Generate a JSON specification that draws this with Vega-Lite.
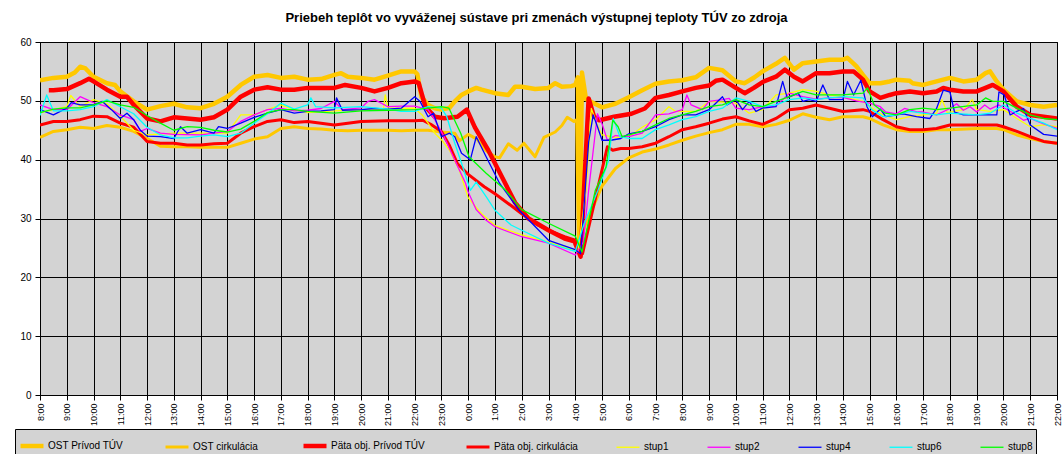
{
"$schema": "https://vega.github.io/schema/vega-lite/v6.json",
"width": 1017, "height": 353,
"autosize": {"type": "none"},
"padding": {"left": 40, "top": 42, "right": 6, "bottom": 59},
"background": "white",
"config": {"font": "Liberation Sans", "view": {"fill": "#D3D3D3", "stroke": "#000000", "strokeWidth": 1}},
"title": {"text": "Priebeh teplôt vo vyváženej sústave pri zmenách výstupnej teploty TÚV zo zdroja", "fontSize": 13, "fontWeight": "bold", "color": "#000000", "offset": 12, "dx": -12, "font": "Liberation Sans"},
"data": {"values": [
{"s":"OST Prívod TÚV","t":0,"v":53.5},{"s":"OST Prívod TÚV","t":0.5,"v":53.9},{"s":"OST Prívod TÚV","t":1,"v":54.1},{"s":"OST Prívod TÚV","t":1.3,"v":54.8},{"s":"OST Prívod TÚV","t":1.5,"v":55.8},{"s":"OST Prívod TÚV","t":1.7,"v":55.5},{"s":"OST Prívod TÚV","t":2,"v":54.1},{"s":"OST Prívod TÚV","t":2.5,"v":53},{"s":"OST Prívod TÚV","t":2.8,"v":52.7},{"s":"OST Prívod TÚV","t":3,"v":51.6},{"s":"OST Prívod TÚV","t":3.5,"v":49.9},{"s":"OST Prívod TÚV","t":4,"v":48.5},{"s":"OST Prívod TÚV","t":4.5,"v":49.1},{"s":"OST Prívod TÚV","t":5,"v":49.5},{"s":"OST Prívod TÚV","t":5.5,"v":48.9},{"s":"OST Prívod TÚV","t":6,"v":48.75},{"s":"OST Prívod TÚV","t":6.5,"v":49.5},{"s":"OST Prívod TÚV","t":7,"v":50.7},{"s":"OST Prívod TÚV","t":7.5,"v":52.7},{"s":"OST Prívod TÚV","t":8,"v":54.1},{"s":"OST Prívod TÚV","t":8.5,"v":54.4},{"s":"OST Prívod TÚV","t":9,"v":53.9},{"s":"OST Prívod TÚV","t":9.5,"v":54.1},{"s":"OST Prívod TÚV","t":10,"v":53.6},{"s":"OST Prívod TÚV","t":10.5,"v":53.7},{"s":"OST Prívod TÚV","t":11,"v":54.4},{"s":"OST Prívod TÚV","t":11.25,"v":54.7},{"s":"OST Prívod TÚV","t":11.5,"v":54.1},{"s":"OST Prívod TÚV","t":12,"v":53.9},{"s":"OST Prívod TÚV","t":12.5,"v":53.6},{"s":"OST Prívod TÚV","t":13,"v":54.3},{"s":"OST Prívod TÚV","t":13.5,"v":55},{"s":"OST Prívod TÚV","t":14,"v":55},{"s":"OST Prívod TÚV","t":14.1,"v":54.5},{"s":"OST Prívod TÚV","t":14.25,"v":50.7},{"s":"OST Prívod TÚV","t":14.5,"v":49.3},{"s":"OST Prívod TÚV","t":14.75,"v":48.75},{"s":"OST Prívod TÚV","t":15,"v":48.5},{"s":"OST Prívod TÚV","t":15.3,"v":48.8},{"s":"OST Prívod TÚV","t":15.5,"v":49.9},{"s":"OST Prívod TÚV","t":15.75,"v":51},{"s":"OST Prívod TÚV","t":16,"v":51.6},{"s":"OST Prívod TÚV","t":16.3,"v":52.2},{"s":"OST Prívod TÚV","t":16.5,"v":51.9},{"s":"OST Prívod TÚV","t":17,"v":51.3},{"s":"OST Prívod TÚV","t":17.5,"v":51},{"s":"OST Prívod TÚV","t":17.75,"v":52.4},{"s":"OST Prívod TÚV","t":18,"v":52.4},{"s":"OST Prívod TÚV","t":18.5,"v":52},{"s":"OST Prívod TÚV","t":19,"v":52.2},{"s":"OST Prívod TÚV","t":19.25,"v":53},{"s":"OST Prívod TÚV","t":19.5,"v":52.4},{"s":"OST Prívod TÚV","t":19.85,"v":52.5},{"s":"OST Prívod TÚV","t":20,"v":52.7},{"s":"OST Prívod TÚV","t":20.1,"v":54},{"s":"OST Prívod TÚV","t":20.17,"v":25},{"s":"OST Prívod TÚV","t":20.25,"v":54.8},{"s":"OST Prívod TÚV","t":20.4,"v":50.3},{"s":"OST Prívod TÚV","t":20.6,"v":49.8},{"s":"OST Prívod TÚV","t":21,"v":48.9},{"s":"OST Prívod TÚV","t":21.5,"v":49.5},{"s":"OST Prívod TÚV","t":22,"v":50.6},{"s":"OST Prívod TÚV","t":22.5,"v":51.8},{"s":"OST Prívod TÚV","t":23,"v":52.9},{"s":"OST Prívod TÚV","t":23.5,"v":53.3},{"s":"OST Prívod TÚV","t":24,"v":53.5},{"s":"OST Prívod TÚV","t":24.5,"v":54},{"s":"OST Prívod TÚV","t":25,"v":55.6},{"s":"OST Prívod TÚV","t":25.5,"v":55.2},{"s":"OST Prívod TÚV","t":26,"v":53.3},{"s":"OST Prívod TÚV","t":26.33,"v":53},{"s":"OST Prívod TÚV","t":26.7,"v":54},{"s":"OST Prívod TÚV","t":27,"v":55},{"s":"OST Prívod TÚV","t":27.5,"v":56.3},{"s":"OST Prívod TÚV","t":27.83,"v":57.3},{"s":"OST Prívod TÚV","t":28.17,"v":55.3},{"s":"OST Prívod TÚV","t":28.5,"v":56.4},{"s":"OST Prívod TÚV","t":29,"v":56.7},{"s":"OST Prívod TÚV","t":29.5,"v":57},{"s":"OST Prívod TÚV","t":30,"v":57},{"s":"OST Prívod TÚV","t":30.17,"v":57.3},{"s":"OST Prívod TÚV","t":30.5,"v":55.9},{"s":"OST Prívod TÚV","t":30.75,"v":54.4},{"s":"OST Prívod TÚV","t":31,"v":53},{"s":"OST Prívod TÚV","t":31.4,"v":53},{"s":"OST Prívod TÚV","t":31.75,"v":53.3},{"s":"OST Prívod TÚV","t":32,"v":53.6},{"s":"OST Prívod TÚV","t":32.5,"v":53.4},{"s":"OST Prívod TÚV","t":32.6,"v":53},{"s":"OST Prívod TÚV","t":33,"v":52.7},{"s":"OST Prívod TÚV","t":33.5,"v":53.3},{"s":"OST Prívod TÚV","t":34,"v":53.9},{"s":"OST Prívod TÚV","t":34.5,"v":53.3},{"s":"OST Prívod TÚV","t":35,"v":53.6},{"s":"OST Prívod TÚV","t":35.33,"v":54.7},{"s":"OST Prívod TÚV","t":35.5,"v":55},{"s":"OST Prívod TÚV","t":35.75,"v":53.3},{"s":"OST Prívod TÚV","t":36,"v":51.9},{"s":"OST Prívod TÚV","t":36.5,"v":49.9},{"s":"OST Prívod TÚV","t":37,"v":49.3},{"s":"OST Prívod TÚV","t":37.5,"v":49},{"s":"OST Prívod TÚV","t":38,"v":49.3},
{"s":"OST cirkulácia","t":0,"v":43.8},{"s":"OST cirkulácia","t":0.5,"v":44.8},{"s":"OST cirkulácia","t":1,"v":45.1},{"s":"OST cirkulácia","t":1.5,"v":45.5},{"s":"OST cirkulácia","t":2,"v":45.3},{"s":"OST cirkulácia","t":2.5,"v":45.8},{"s":"OST cirkulácia","t":3,"v":45.5},{"s":"OST cirkulácia","t":3.5,"v":44.8},{"s":"OST cirkulácia","t":4,"v":43.6},{"s":"OST cirkulácia","t":4.5,"v":42.3},{"s":"OST cirkulácia","t":5,"v":42.2},{"s":"OST cirkulácia","t":5.5,"v":42.2},{"s":"OST cirkulácia","t":6,"v":42.1},{"s":"OST cirkulácia","t":6.5,"v":42.1},{"s":"OST cirkulácia","t":7,"v":42.1},{"s":"OST cirkulácia","t":7.5,"v":42.8},{"s":"OST cirkulácia","t":8,"v":43.5},{"s":"OST cirkulácia","t":8.5,"v":43.9},{"s":"OST cirkulácia","t":9,"v":45.3},{"s":"OST cirkulácia","t":9.5,"v":45.6},{"s":"OST cirkulácia","t":10,"v":45.3},{"s":"OST cirkulácia","t":10.5,"v":45.2},{"s":"OST cirkulácia","t":11,"v":45},{"s":"OST cirkulácia","t":11.5,"v":44.9},{"s":"OST cirkulácia","t":12,"v":45},{"s":"OST cirkulácia","t":12.5,"v":45},{"s":"OST cirkulácia","t":13,"v":45},{"s":"OST cirkulácia","t":13.5,"v":44.9},{"s":"OST cirkulácia","t":14,"v":45},{"s":"OST cirkulácia","t":14.5,"v":45},{"s":"OST cirkulácia","t":15,"v":44.7},{"s":"OST cirkulácia","t":15.5,"v":44.5},{"s":"OST cirkulácia","t":15.67,"v":43.2},{"s":"OST cirkulácia","t":16,"v":44.3},{"s":"OST cirkulácia","t":16.33,"v":43.5},{"s":"OST cirkulácia","t":16.67,"v":41.5},{"s":"OST cirkulácia","t":17,"v":40.5},{"s":"OST cirkulácia","t":17.17,"v":40.3},{"s":"OST cirkulácia","t":17.5,"v":42.7},{"s":"OST cirkulácia","t":17.83,"v":41.6},{"s":"OST cirkulácia","t":18.08,"v":42.8},{"s":"OST cirkulácia","t":18.5,"v":40.5},{"s":"OST cirkulácia","t":18.83,"v":43.8},{"s":"OST cirkulácia","t":19.25,"v":44.7},{"s":"OST cirkulácia","t":19.5,"v":45.8},{"s":"OST cirkulácia","t":19.7,"v":47.2},{"s":"OST cirkulácia","t":19.95,"v":46.5},{"s":"OST cirkulácia","t":20.05,"v":46.8},{"s":"OST cirkulácia","t":20.12,"v":24.5},{"s":"OST cirkulácia","t":20.35,"v":28.6},{"s":"OST cirkulácia","t":21,"v":35.5},{"s":"OST cirkulácia","t":21.5,"v":38.5},{"s":"OST cirkulácia","t":22,"v":40.3},{"s":"OST cirkulácia","t":22.5,"v":41.3},{"s":"OST cirkulácia","t":23,"v":41.8},{"s":"OST cirkulácia","t":23.5,"v":42.5},{"s":"OST cirkulácia","t":24,"v":43.3},{"s":"OST cirkulácia","t":24.5,"v":44},{"s":"OST cirkulácia","t":25,"v":44.6},{"s":"OST cirkulácia","t":25.5,"v":45.1},{"s":"OST cirkulácia","t":26,"v":46},{"s":"OST cirkulácia","t":26.5,"v":46},{"s":"OST cirkulácia","t":27,"v":45.6},{"s":"OST cirkulácia","t":27.5,"v":46},{"s":"OST cirkulácia","t":28,"v":46.7},{"s":"OST cirkulácia","t":28.5,"v":47.8},{"s":"OST cirkulácia","t":29,"v":47.2},{"s":"OST cirkulácia","t":29.5,"v":46.8},{"s":"OST cirkulácia","t":30,"v":47.3},{"s":"OST cirkulácia","t":30.75,"v":47.3},{"s":"OST cirkulácia","t":31,"v":47},{"s":"OST cirkulácia","t":31.5,"v":45.9},{"s":"OST cirkulácia","t":32,"v":45.1},{"s":"OST cirkulácia","t":32.5,"v":44.8},{"s":"OST cirkulácia","t":33,"v":44.8},{"s":"OST cirkulácia","t":33.5,"v":45.1},{"s":"OST cirkulácia","t":34,"v":45.1},{"s":"OST cirkulácia","t":35,"v":45.3},{"s":"OST cirkulácia","t":35.75,"v":45.3},{"s":"OST cirkulácia","t":36,"v":45.1},{"s":"OST cirkulácia","t":36.5,"v":44.2},{"s":"OST cirkulácia","t":37,"v":43.6},{"s":"OST cirkulácia","t":37.5,"v":43.1},{"s":"OST cirkulácia","t":38,"v":42.8},
{"s":"Päta obj. Prívod TÚV","t":0.33,"v":51.8},{"s":"Päta obj. Prívod TÚV","t":0.5,"v":51.8},{"s":"Päta obj. Prívod TÚV","t":1,"v":52},{"s":"Päta obj. Prívod TÚV","t":1.5,"v":53},{"s":"Päta obj. Prívod TÚV","t":1.83,"v":53.75},{"s":"Päta obj. Prívod TÚV","t":2,"v":53.3},{"s":"Päta obj. Prívod TÚV","t":2.5,"v":51.9},{"s":"Päta obj. Prívod TÚV","t":3,"v":50.7},{"s":"Päta obj. Prívod TÚV","t":3.25,"v":50.7},{"s":"Päta obj. Prívod TÚV","t":3.5,"v":49.3},{"s":"Päta obj. Prívod TÚV","t":4,"v":47},{"s":"Päta obj. Prívod TÚV","t":4.5,"v":46.5},{"s":"Päta obj. Prívod TÚV","t":5,"v":47.2},{"s":"Päta obj. Prívod TÚV","t":5.5,"v":47},{"s":"Päta obj. Prívod TÚV","t":6,"v":46.8},{"s":"Päta obj. Prívod TÚV","t":6.5,"v":47.2},{"s":"Päta obj. Prívod TÚV","t":7,"v":48.5},{"s":"Päta obj. Prívod TÚV","t":7.5,"v":50.7},{"s":"Päta obj. Prívod TÚV","t":8,"v":51.9},{"s":"Päta obj. Prívod TÚV","t":8.5,"v":52.3},{"s":"Päta obj. Prívod TÚV","t":9,"v":51.9},{"s":"Päta obj. Prívod TÚV","t":9.5,"v":51.9},{"s":"Päta obj. Prívod TÚV","t":10,"v":52.2},{"s":"Päta obj. Prívod TÚV","t":10.5,"v":52.2},{"s":"Päta obj. Prívod TÚV","t":11,"v":52.2},{"s":"Päta obj. Prívod TÚV","t":11.4,"v":52.7},{"s":"Päta obj. Prívod TÚV","t":12,"v":52.2},{"s":"Päta obj. Prívod TÚV","t":12.5,"v":51.6},{"s":"Päta obj. Prívod TÚV","t":13,"v":52.2},{"s":"Päta obj. Prívod TÚV","t":13.5,"v":53},{"s":"Päta obj. Prívod TÚV","t":14,"v":53.3},{"s":"Päta obj. Prívod TÚV","t":14.15,"v":53},{"s":"Päta obj. Prívod TÚV","t":14.4,"v":49},{"s":"Päta obj. Prívod TÚV","t":14.75,"v":47.3},{"s":"Päta obj. Prívod TÚV","t":15.1,"v":47.05},{"s":"Päta obj. Prívod TÚV","t":15.6,"v":47.3},{"s":"Päta obj. Prívod TÚV","t":15.95,"v":48.5},{"s":"Päta obj. Prívod TÚV","t":16.25,"v":45.5},{"s":"Päta obj. Prívod TÚV","t":16.75,"v":41.6},{"s":"Päta obj. Prívod TÚV","t":17.3,"v":36.7},{"s":"Päta obj. Prívod TÚV","t":17.75,"v":32.7},{"s":"Päta obj. Prívod TÚV","t":18.25,"v":30},{"s":"Päta obj. Prívod TÚV","t":19,"v":28},{"s":"Päta obj. Prívod TÚV","t":19.6,"v":26.6},{"s":"Päta obj. Prívod TÚV","t":19.97,"v":26.1},{"s":"Päta obj. Prívod TÚV","t":20.2,"v":23.5},{"s":"Päta obj. Prívod TÚV","t":20.5,"v":50.4},{"s":"Päta obj. Prívod TÚV","t":20.7,"v":47.3},{"s":"Päta obj. Prívod TÚV","t":20.9,"v":46.7},{"s":"Päta obj. Prívod TÚV","t":21.45,"v":47.3},{"s":"Päta obj. Prívod TÚV","t":22.1,"v":47.8},{"s":"Päta obj. Prívod TÚV","t":22.6,"v":48.7},{"s":"Päta obj. Prívod TÚV","t":23,"v":50.5},{"s":"Päta obj. Prívod TÚV","t":23.5,"v":51},{"s":"Päta obj. Prívod TÚV","t":24,"v":51.6},{"s":"Päta obj. Prívod TÚV","t":24.5,"v":52.2},{"s":"Päta obj. Prívod TÚV","t":25,"v":52.6},{"s":"Päta obj. Prívod TÚV","t":25.25,"v":53.4},{"s":"Päta obj. Prívod TÚV","t":25.5,"v":53.6},{"s":"Päta obj. Prívod TÚV","t":26,"v":52.2},{"s":"Päta obj. Prívod TÚV","t":26.33,"v":51.3},{"s":"Päta obj. Prívod TÚV","t":26.67,"v":52.2},{"s":"Päta obj. Prívod TÚV","t":27,"v":53.2},{"s":"Päta obj. Prívod TÚV","t":27.5,"v":54.1},{"s":"Päta obj. Prívod TÚV","t":27.83,"v":55.3},{"s":"Päta obj. Prívod TÚV","t":28.17,"v":54.1},{"s":"Päta obj. Prívod TÚV","t":28.5,"v":53.3},{"s":"Päta obj. Prívod TÚV","t":29,"v":54.7},{"s":"Päta obj. Prívod TÚV","t":29.5,"v":54.7},{"s":"Päta obj. Prívod TÚV","t":30,"v":55},{"s":"Päta obj. Prívod TÚV","t":30.4,"v":55},{"s":"Päta obj. Prívod TÚV","t":30.75,"v":53.6},{"s":"Päta obj. Prívod TÚV","t":31,"v":51.6},{"s":"Päta obj. Prívod TÚV","t":31.4,"v":50.5},{"s":"Päta obj. Prívod TÚV","t":31.75,"v":51},{"s":"Päta obj. Prívod TÚV","t":32,"v":51.3},{"s":"Päta obj. Prívod TÚV","t":32.5,"v":51.6},{"s":"Päta obj. Prívod TÚV","t":33,"v":51.3},{"s":"Päta obj. Prívod TÚV","t":33.5,"v":51.6},{"s":"Päta obj. Prívod TÚV","t":33.75,"v":52.2},{"s":"Päta obj. Prívod TÚV","t":34,"v":51.9},{"s":"Päta obj. Prívod TÚV","t":34.5,"v":51.6},{"s":"Päta obj. Prívod TÚV","t":35,"v":51.6},{"s":"Päta obj. Prívod TÚV","t":35.33,"v":52.2},{"s":"Päta obj. Prívod TÚV","t":35.6,"v":52.7},{"s":"Päta obj. Prívod TÚV","t":36,"v":51.6},{"s":"Päta obj. Prívod TÚV","t":36.5,"v":49},{"s":"Päta obj. Prívod TÚV","t":37,"v":47.6},{"s":"Päta obj. Prívod TÚV","t":37.5,"v":47.3},{"s":"Päta obj. Prívod TÚV","t":38,"v":47},
{"s":"Päta obj. cirkulácia","t":0,"v":45.9},{"s":"Päta obj. cirkulácia","t":0.5,"v":46.5},{"s":"Päta obj. cirkulácia","t":1,"v":46.5},{"s":"Päta obj. cirkulácia","t":1.5,"v":46.8},{"s":"Päta obj. cirkulácia","t":2,"v":47.4},{"s":"Päta obj. cirkulácia","t":2.5,"v":47.3},{"s":"Päta obj. cirkulácia","t":3,"v":46.2},{"s":"Päta obj. cirkulácia","t":3.5,"v":45.5},{"s":"Päta obj. cirkulácia","t":4,"v":43.1},{"s":"Päta obj. cirkulácia","t":4.5,"v":42.8},{"s":"Päta obj. cirkulácia","t":5,"v":42.8},{"s":"Päta obj. cirkulácia","t":5.5,"v":42.5},{"s":"Päta obj. cirkulácia","t":6,"v":42.5},{"s":"Päta obj. cirkulácia","t":6.5,"v":42.7},{"s":"Päta obj. cirkulácia","t":7,"v":42.8},{"s":"Päta obj. cirkulácia","t":7.5,"v":44.5},{"s":"Päta obj. cirkulácia","t":8,"v":45.6},{"s":"Päta obj. cirkulácia","t":8.5,"v":46.5},{"s":"Päta obj. cirkulácia","t":9,"v":46.8},{"s":"Päta obj. cirkulácia","t":9.5,"v":46.3},{"s":"Päta obj. cirkulácia","t":10,"v":46.5},{"s":"Päta obj. cirkulácia","t":11,"v":45.9},{"s":"Päta obj. cirkulácia","t":12,"v":46.5},{"s":"Päta obj. cirkulácia","t":13,"v":46.6},{"s":"Päta obj. cirkulácia","t":14,"v":46.6},{"s":"Päta obj. cirkulácia","t":14.3,"v":46.7},{"s":"Päta obj. cirkulácia","t":14.6,"v":46},{"s":"Päta obj. cirkulácia","t":15,"v":44.8},{"s":"Päta obj. cirkulácia","t":15.3,"v":42.4},{"s":"Päta obj. cirkulácia","t":15.6,"v":39.3},{"s":"Päta obj. cirkulácia","t":16,"v":37.5},{"s":"Päta obj. cirkulácia","t":16.6,"v":35.4},{"s":"Päta obj. cirkulácia","t":17,"v":34.2},{"s":"Päta obj. cirkulácia","t":17.6,"v":32.2},{"s":"Päta obj. cirkulácia","t":18,"v":30.8},{"s":"Päta obj. cirkulácia","t":18.6,"v":28.9},{"s":"Päta obj. cirkulácia","t":19,"v":28},{"s":"Päta obj. cirkulácia","t":19.6,"v":26.9},{"s":"Päta obj. cirkulácia","t":20,"v":26.3},{"s":"Päta obj. cirkulácia","t":20.27,"v":24},{"s":"Päta obj. cirkulácia","t":21.2,"v":42.2},{"s":"Päta obj. cirkulácia","t":21.4,"v":41.6},{"s":"Päta obj. cirkulácia","t":21.7,"v":41.9},{"s":"Päta obj. cirkulácia","t":22,"v":41.9},{"s":"Päta obj. cirkulácia","t":22.5,"v":42.2},{"s":"Päta obj. cirkulácia","t":23,"v":42.8},{"s":"Päta obj. cirkulácia","t":23.5,"v":43.9},{"s":"Päta obj. cirkulácia","t":24,"v":45.1},{"s":"Päta obj. cirkulácia","t":24.5,"v":45.6},{"s":"Päta obj. cirkulácia","t":25,"v":46.2},{"s":"Päta obj. cirkulácia","t":25.5,"v":46.9},{"s":"Päta obj. cirkulácia","t":26,"v":47.3},{"s":"Päta obj. cirkulácia","t":26.5,"v":46.6},{"s":"Päta obj. cirkulácia","t":27,"v":46},{"s":"Päta obj. cirkulácia","t":27.5,"v":47},{"s":"Päta obj. cirkulácia","t":28,"v":48.5},{"s":"Päta obj. cirkulácia","t":28.5,"v":48.75},{"s":"Päta obj. cirkulácia","t":29,"v":49.3},{"s":"Päta obj. cirkulácia","t":29.5,"v":48.75},{"s":"Päta obj. cirkulácia","t":30,"v":48.2},{"s":"Päta obj. cirkulácia","t":30.75,"v":48.5},{"s":"Päta obj. cirkulácia","t":31,"v":48.2},{"s":"Päta obj. cirkulácia","t":31.5,"v":46.8},{"s":"Päta obj. cirkulácia","t":32,"v":45.6},{"s":"Päta obj. cirkulácia","t":32.5,"v":45.1},{"s":"Päta obj. cirkulácia","t":33,"v":45.1},{"s":"Päta obj. cirkulácia","t":33.5,"v":45.3},{"s":"Päta obj. cirkulácia","t":34,"v":45.9},{"s":"Päta obj. cirkulácia","t":35,"v":45.9},{"s":"Päta obj. cirkulácia","t":35.75,"v":45.9},{"s":"Päta obj. cirkulácia","t":36,"v":45.6},{"s":"Päta obj. cirkulácia","t":36.5,"v":44.8},{"s":"Päta obj. cirkulácia","t":37,"v":43.9},{"s":"Päta obj. cirkulácia","t":37.5,"v":43.1},{"s":"Päta obj. cirkulácia","t":38,"v":42.8},
{"s":"stup1","t":0,"v":48},{"s":"stup1","t":0.5,"v":48.5},{"s":"stup1","t":1,"v":49},{"s":"stup1","t":1.15,"v":50.9},{"s":"stup1","t":1.5,"v":49},{"s":"stup1","t":2,"v":50.2},{"s":"stup1","t":2.5,"v":49.5},{"s":"stup1","t":3,"v":47.4},{"s":"stup1","t":3.5,"v":45},{"s":"stup1","t":4,"v":44.2},{"s":"stup1","t":5,"v":44.5},{"s":"stup1","t":6,"v":44.5},{"s":"stup1","t":7,"v":44.5},{"s":"stup1","t":7.5,"v":47.6},{"s":"stup1","t":8,"v":47.6},{"s":"stup1","t":8.5,"v":48.5},{"s":"stup1","t":9,"v":49.3},{"s":"stup1","t":9.5,"v":48.5},{"s":"stup1","t":10,"v":48},{"s":"stup1","t":11,"v":48.3},{"s":"stup1","t":12,"v":48.5},{"s":"stup1","t":12.83,"v":48.5},{"s":"stup1","t":12.9,"v":51},{"s":"stup1","t":13,"v":48.8},{"s":"stup1","t":13.5,"v":48.7},{"s":"stup1","t":14,"v":48.75},{"s":"stup1","t":14.3,"v":47.5},{"s":"stup1","t":14.5,"v":46.2},{"s":"stup1","t":14.75,"v":44.5},{"s":"stup1","t":15,"v":43.4},{"s":"stup1","t":15.3,"v":41.6},{"s":"stup1","t":15.67,"v":38.2},{"s":"stup1","t":16,"v":33.5},{"s":"stup1","t":16.5,"v":30.8},{"s":"stup1","t":17,"v":28.8},{"s":"stup1","t":18,"v":27.2},{"s":"stup1","t":19,"v":26},{"s":"stup1","t":20,"v":24.6},{"s":"stup1","t":20.1,"v":24.3},{"s":"stup1","t":20.4,"v":34.8},{"s":"stup1","t":20.6,"v":48.7},{"s":"stup1","t":20.85,"v":45.6},{"s":"stup1","t":21,"v":44.2},{"s":"stup1","t":21.5,"v":43.8},{"s":"stup1","t":22,"v":43.9},{"s":"stup1","t":22.5,"v":45.5},{"s":"stup1","t":23,"v":46.8},{"s":"stup1","t":23.5,"v":49},{"s":"stup1","t":23.75,"v":48.2},{"s":"stup1","t":24,"v":48.2},{"s":"stup1","t":24.5,"v":48.2},{"s":"stup1","t":25,"v":49.9},{"s":"stup1","t":25.5,"v":49.8},{"s":"stup1","t":26,"v":49.6},{"s":"stup1","t":26.5,"v":47.9},{"s":"stup1","t":27,"v":48.5},{"s":"stup1","t":27.5,"v":51},{"s":"stup1","t":28,"v":51.3},{"s":"stup1","t":28.5,"v":51.9},{"s":"stup1","t":29,"v":51.6},{"s":"stup1","t":29.5,"v":51},{"s":"stup1","t":30,"v":50.7},{"s":"stup1","t":30.75,"v":49.9},{"s":"stup1","t":31.1,"v":48.75},{"s":"stup1","t":31.5,"v":47.6},{"s":"stup1","t":32,"v":46.8},{"s":"stup1","t":32.5,"v":47.3},{"s":"stup1","t":33,"v":47.6},{"s":"stup1","t":33.5,"v":47.9},{"s":"stup1","t":33.7,"v":50.2},{"s":"stup1","t":33.9,"v":48},{"s":"stup1","t":34.5,"v":48.5},{"s":"stup1","t":34.83,"v":50.2},{"s":"stup1","t":35,"v":48.5},{"s":"stup1","t":35.5,"v":48.2},{"s":"stup1","t":36,"v":48.5},{"s":"stup1","t":36.5,"v":47},{"s":"stup1","t":37,"v":45.6},{"s":"stup1","t":37.5,"v":45.9},{"s":"stup1","t":38,"v":45.6},
{"s":"stup2","t":0,"v":49.3},{"s":"stup2","t":0.5,"v":48.5},{"s":"stup2","t":1,"v":48.5},{"s":"stup2","t":1.5,"v":50.7},{"s":"stup2","t":2,"v":49.7},{"s":"stup2","t":2.5,"v":49},{"s":"stup2","t":3,"v":47.6},{"s":"stup2","t":3.5,"v":46.8},{"s":"stup2","t":3.75,"v":44.8},{"s":"stup2","t":4,"v":45.3},{"s":"stup2","t":4.5,"v":44.5},{"s":"stup2","t":5,"v":44.3},{"s":"stup2","t":6,"v":44.2},{"s":"stup2","t":7,"v":44.8},{"s":"stup2","t":7.5,"v":46.5},{"s":"stup2","t":8,"v":47.6},{"s":"stup2","t":8.5,"v":48.5},{"s":"stup2","t":9,"v":48.7},{"s":"stup2","t":9.5,"v":48.3},{"s":"stup2","t":10,"v":48.4},{"s":"stup2","t":10.5,"v":48.7},{"s":"stup2","t":11,"v":49.9},{"s":"stup2","t":11.3,"v":48.5},{"s":"stup2","t":12,"v":48.8},{"s":"stup2","t":12.25,"v":49.9},{"s":"stup2","t":12.5,"v":50.2},{"s":"stup2","t":13,"v":49},{"s":"stup2","t":13.5,"v":49.1},{"s":"stup2","t":14,"v":49.1},{"s":"stup2","t":14.5,"v":48.5},{"s":"stup2","t":14.75,"v":46.8},{"s":"stup2","t":15.1,"v":43.9},{"s":"stup2","t":15.5,"v":39.9},{"s":"stup2","t":15.9,"v":36},{"s":"stup2","t":16,"v":34.5},{"s":"stup2","t":16.3,"v":31.5},{"s":"stup2","t":16.67,"v":29.7},{"s":"stup2","t":17,"v":28.6},{"s":"stup2","t":18,"v":26.9},{"s":"stup2","t":19,"v":25.8},{"s":"stup2","t":20,"v":23.8},{"s":"stup2","t":20.3,"v":26},{"s":"stup2","t":20.5,"v":34.8},{"s":"stup2","t":20.83,"v":47.8},{"s":"stup2","t":21,"v":46.1},{"s":"stup2","t":21.2,"v":43.3},{"s":"stup2","t":21.5,"v":44.1},{"s":"stup2","t":22,"v":43.9},{"s":"stup2","t":22.5,"v":44.5},{"s":"stup2","t":23,"v":47.6},{"s":"stup2","t":23.5,"v":47.8},{"s":"stup2","t":24,"v":48.5},{"s":"stup2","t":24.17,"v":51},{"s":"stup2","t":24.33,"v":49.3},{"s":"stup2","t":24.75,"v":48.5},{"s":"stup2","t":25,"v":49.9},{"s":"stup2","t":25.5,"v":50.2},{"s":"stup2","t":25.75,"v":50.4},{"s":"stup2","t":26,"v":48.75},{"s":"stup2","t":26.5,"v":48.5},{"s":"stup2","t":27,"v":49},{"s":"stup2","t":27.5,"v":49.1},{"s":"stup2","t":28,"v":51.3},{"s":"stup2","t":28.5,"v":50.7},{"s":"stup2","t":29,"v":50.3},{"s":"stup2","t":29.5,"v":50.5},{"s":"stup2","t":30,"v":50.6},{"s":"stup2","t":30.5,"v":50},{"s":"stup2","t":31,"v":49.6},{"s":"stup2","t":31.4,"v":49},{"s":"stup2","t":31.6,"v":48.1},{"s":"stup2","t":32,"v":47.8},{"s":"stup2","t":32.3,"v":48.7},{"s":"stup2","t":32.8,"v":48.1},{"s":"stup2","t":33,"v":48.1},{"s":"stup2","t":33.5,"v":47.6},{"s":"stup2","t":34,"v":48.7},{"s":"stup2","t":34.25,"v":49.5},{"s":"stup2","t":34.5,"v":48.4},{"s":"stup2","t":34.75,"v":49},{"s":"stup2","t":35,"v":48.1},{"s":"stup2","t":35.3,"v":49.3},{"s":"stup2","t":35.5,"v":48.6},{"s":"stup2","t":35.83,"v":49.3},{"s":"stup2","t":36.3,"v":48.1},{"s":"stup2","t":36.75,"v":46.7},{"s":"stup2","t":37,"v":47},{"s":"stup2","t":37.5,"v":46.1},{"s":"stup2","t":38,"v":45.3},
{"s":"stup4","t":0,"v":48.5},{"s":"stup4","t":0.5,"v":47.6},{"s":"stup4","t":1,"v":48.75},{"s":"stup4","t":1.17,"v":49.7},{"s":"stup4","t":1.5,"v":49.3},{"s":"stup4","t":2,"v":49.3},{"s":"stup4","t":2.33,"v":49.9},{"s":"stup4","t":2.67,"v":48.5},{"s":"stup4","t":3,"v":47},{"s":"stup4","t":3.25,"v":47.9},{"s":"stup4","t":3.5,"v":46.8},{"s":"stup4","t":3.75,"v":45},{"s":"stup4","t":4,"v":44},{"s":"stup4","t":4.5,"v":43.9},{"s":"stup4","t":5,"v":43.6},{"s":"stup4","t":5.25,"v":45.6},{"s":"stup4","t":5.5,"v":44.5},{"s":"stup4","t":6,"v":45.1},{"s":"stup4","t":6.5,"v":44.5},{"s":"stup4","t":6.67,"v":45.6},{"s":"stup4","t":7,"v":45.3},{"s":"stup4","t":7.5,"v":46.2},{"s":"stup4","t":8,"v":47.2},{"s":"stup4","t":8.5,"v":47.9},{"s":"stup4","t":9,"v":48.5},{"s":"stup4","t":9.5,"v":47.9},{"s":"stup4","t":10,"v":48.2},{"s":"stup4","t":10.5,"v":48.3},{"s":"stup4","t":11,"v":48.5},{"s":"stup4","t":11.08,"v":50.5},{"s":"stup4","t":11.3,"v":48.4},{"s":"stup4","t":12,"v":48.5},{"s":"stup4","t":12.5,"v":48.7},{"s":"stup4","t":13,"v":48.6},{"s":"stup4","t":13.5,"v":48.75},{"s":"stup4","t":14,"v":50.7},{"s":"stup4","t":14.2,"v":49.9},{"s":"stup4","t":14.5,"v":47.3},{"s":"stup4","t":14.7,"v":47.9},{"s":"stup4","t":15,"v":43.9},{"s":"stup4","t":15.3,"v":44.5},{"s":"stup4","t":15.5,"v":43.9},{"s":"stup4","t":15.75,"v":41.1},{"s":"stup4","t":16.08,"v":40},{"s":"stup4","t":16.3,"v":43.9},{"s":"stup4","t":16.67,"v":40.5},{"s":"stup4","t":17.17,"v":36},{"s":"stup4","t":17.9,"v":31.4},{"s":"stup4","t":18.4,"v":29.1},{"s":"stup4","t":19,"v":26.3},{"s":"stup4","t":20,"v":24.7},{"s":"stup4","t":20.2,"v":24},{"s":"stup4","t":20.5,"v":43},{"s":"stup4","t":20.67,"v":47.6},{"s":"stup4","t":20.83,"v":45.6},{"s":"stup4","t":21,"v":43.3},{"s":"stup4","t":21.33,"v":43.3},{"s":"stup4","t":21.7,"v":43.6},{"s":"stup4","t":22,"v":44.4},{"s":"stup4","t":22.5,"v":44.8},{"s":"stup4","t":23,"v":45.6},{"s":"stup4","t":23.5,"v":46.8},{"s":"stup4","t":24,"v":47.6},{"s":"stup4","t":24.5,"v":47.6},{"s":"stup4","t":25,"v":48.5},{"s":"stup4","t":25.25,"v":49.6},{"s":"stup4","t":25.5,"v":50.7},{"s":"stup4","t":25.67,"v":49.3},{"s":"stup4","t":26,"v":50.2},{"s":"stup4","t":26.25,"v":48.5},{"s":"stup4","t":26.5,"v":49.9},{"s":"stup4","t":26.75,"v":48.2},{"s":"stup4","t":27,"v":48.75},{"s":"stup4","t":27.5,"v":49},{"s":"stup4","t":27.75,"v":53.3},{"s":"stup4","t":27.92,"v":50.5},{"s":"stup4","t":28.33,"v":51.3},{"s":"stup4","t":28.5,"v":49.9},{"s":"stup4","t":28.75,"v":50.2},{"s":"stup4","t":29,"v":49.9},{"s":"stup4","t":29.25,"v":52.7},{"s":"stup4","t":29.5,"v":50.2},{"s":"stup4","t":30,"v":50.2},{"s":"stup4","t":30.17,"v":53.3},{"s":"stup4","t":30.4,"v":51},{"s":"stup4","t":30.67,"v":53.5},{"s":"stup4","t":30.9,"v":49},{"s":"stup4","t":31.1,"v":47.3},{"s":"stup4","t":31.4,"v":48.6},{"s":"stup4","t":31.6,"v":47.3},{"s":"stup4","t":32.25,"v":47.8},{"s":"stup4","t":32.75,"v":47.3},{"s":"stup4","t":33.25,"v":47},{"s":"stup4","t":33.5,"v":48.7},{"s":"stup4","t":33.75,"v":51.8},{"s":"stup4","t":34,"v":51.5},{"s":"stup4","t":34.17,"v":48.1},{"s":"stup4","t":34.5,"v":47.6},{"s":"stup4","t":35,"v":47.6},{"s":"stup4","t":35.75,"v":47.6},{"s":"stup4","t":35.83,"v":51.5},{"s":"stup4","t":36.03,"v":51},{"s":"stup4","t":36.25,"v":47.6},{"s":"stup4","t":36.5,"v":48.2},{"s":"stup4","t":36.75,"v":48.7},{"s":"stup4","t":37,"v":45.9},{"s":"stup4","t":37.5,"v":44.3},{"s":"stup4","t":38,"v":44},
{"s":"stup6","t":0,"v":47.5},{"s":"stup6","t":0.25,"v":51},{"s":"stup6","t":0.5,"v":48.3},{"s":"stup6","t":1,"v":48.3},{"s":"stup6","t":1.5,"v":48.5},{"s":"stup6","t":2,"v":49},{"s":"stup6","t":2.5,"v":50.2},{"s":"stup6","t":3,"v":49},{"s":"stup6","t":3.5,"v":47.8},{"s":"stup6","t":4,"v":45.5},{"s":"stup6","t":4.5,"v":44.2},{"s":"stup6","t":5,"v":43.7},{"s":"stup6","t":5.5,"v":43.7},{"s":"stup6","t":6,"v":44},{"s":"stup6","t":6.5,"v":44.2},{"s":"stup6","t":7,"v":43.9},{"s":"stup6","t":7.5,"v":44.5},{"s":"stup6","t":8,"v":46.2},{"s":"stup6","t":8.5,"v":47.8},{"s":"stup6","t":9,"v":49.6},{"s":"stup6","t":9.5,"v":48.6},{"s":"stup6","t":10,"v":49.3},{"s":"stup6","t":10.12,"v":50.5},{"s":"stup6","t":10.3,"v":49},{"s":"stup6","t":11,"v":48.8},{"s":"stup6","t":12,"v":49},{"s":"stup6","t":12.5,"v":48.8},{"s":"stup6","t":13,"v":48.6},{"s":"stup6","t":13.5,"v":48.2},{"s":"stup6","t":14,"v":48.2},{"s":"stup6","t":14.5,"v":49},{"s":"stup6","t":15,"v":48.75},{"s":"stup6","t":15.2,"v":47.3},{"s":"stup6","t":15.5,"v":42.8},{"s":"stup6","t":15.75,"v":39.4},{"s":"stup6","t":16.08,"v":34.8},{"s":"stup6","t":16.3,"v":36.2},{"s":"stup6","t":16.67,"v":33.7},{"s":"stup6","t":17,"v":31.4},{"s":"stup6","t":17.6,"v":28.9},{"s":"stup6","t":18,"v":28},{"s":"stup6","t":19,"v":25.8},{"s":"stup6","t":20,"v":24.4},{"s":"stup6","t":20.33,"v":29.1},{"s":"stup6","t":20.85,"v":34.8},{"s":"stup6","t":21.25,"v":39.9},{"s":"stup6","t":21.42,"v":47},{"s":"stup6","t":21.67,"v":43.9},{"s":"stup6","t":22,"v":43.6},{"s":"stup6","t":22.5,"v":43.6},{"s":"stup6","t":23,"v":45.1},{"s":"stup6","t":23.5,"v":45.9},{"s":"stup6","t":24,"v":46.8},{"s":"stup6","t":24.5,"v":47.3},{"s":"stup6","t":25,"v":48.2},{"s":"stup6","t":25.5,"v":48.75},{"s":"stup6","t":26,"v":50.5},{"s":"stup6","t":26.5,"v":49.9},{"s":"stup6","t":27,"v":49},{"s":"stup6","t":27.5,"v":49.3},{"s":"stup6","t":28,"v":50.2},{"s":"stup6","t":28.5,"v":50.5},{"s":"stup6","t":29,"v":50.2},{"s":"stup6","t":29.5,"v":50.5},{"s":"stup6","t":30,"v":50.7},{"s":"stup6","t":30.75,"v":50.5},{"s":"stup6","t":31.08,"v":48.5},{"s":"stup6","t":31.5,"v":47.3},{"s":"stup6","t":32,"v":47.6},{"s":"stup6","t":32.5,"v":48.2},{"s":"stup6","t":33,"v":47.9},{"s":"stup6","t":33.5,"v":47.6},{"s":"stup6","t":34,"v":47.9},{"s":"stup6","t":35,"v":47.6},{"s":"stup6","t":35.5,"v":47.9},{"s":"stup6","t":36,"v":49.3},{"s":"stup6","t":36.5,"v":47.9},{"s":"stup6","t":37,"v":47},{"s":"stup6","t":37.5,"v":46.2},{"s":"stup6","t":38,"v":45.1},
{"s":"stup8","t":0,"v":48},{"s":"stup8","t":0.5,"v":48.6},{"s":"stup8","t":1,"v":48.8},{"s":"stup8","t":1.5,"v":48.8},{"s":"stup8","t":2,"v":49.3},{"s":"stup8","t":2.5,"v":50},{"s":"stup8","t":3,"v":49.3},{"s":"stup8","t":3.5,"v":48.9},{"s":"stup8","t":4,"v":47.5},{"s":"stup8","t":4.5,"v":46.2},{"s":"stup8","t":5,"v":45},{"s":"stup8","t":5.5,"v":45.6},{"s":"stup8","t":6,"v":45.5},{"s":"stup8","t":6.5,"v":45},{"s":"stup8","t":7,"v":44.7},{"s":"stup8","t":7.5,"v":45.2},{"s":"stup8","t":8,"v":46.5},{"s":"stup8","t":8.5,"v":48},{"s":"stup8","t":9,"v":48.5},{"s":"stup8","t":9.5,"v":48.5},{"s":"stup8","t":10,"v":48.2},{"s":"stup8","t":11,"v":47.9},{"s":"stup8","t":12,"v":48.3},{"s":"stup8","t":13,"v":48.4},{"s":"stup8","t":14,"v":48.5},{"s":"stup8","t":15,"v":49},{"s":"stup8","t":15.28,"v":48.75},{"s":"stup8","t":15.72,"v":44.5},{"s":"stup8","t":16.03,"v":40.5},{"s":"stup8","t":16.67,"v":37.7},{"s":"stup8","t":17.4,"v":34.8},{"s":"stup8","t":18,"v":31.5},{"s":"stup8","t":19,"v":29.2},{"s":"stup8","t":20,"v":27},{"s":"stup8","t":20.25,"v":24.3},{"s":"stup8","t":20.75,"v":34.8},{"s":"stup8","t":21.15,"v":38.75},{"s":"stup8","t":21.4,"v":46.7},{"s":"stup8","t":21.6,"v":45.6},{"s":"stup8","t":21.75,"v":43.9},{"s":"stup8","t":22,"v":44.2},{"s":"stup8","t":22.5,"v":44.8},{"s":"stup8","t":23,"v":45.9},{"s":"stup8","t":23.5,"v":47},{"s":"stup8","t":24,"v":47.6},{"s":"stup8","t":24.5,"v":48.2},{"s":"stup8","t":25,"v":49},{"s":"stup8","t":25.5,"v":49.3},{"s":"stup8","t":26,"v":50.2},{"s":"stup8","t":26.5,"v":49.3},{"s":"stup8","t":27,"v":49},{"s":"stup8","t":27.5,"v":49.9},{"s":"stup8","t":28,"v":50.7},{"s":"stup8","t":28.5,"v":51.6},{"s":"stup8","t":29,"v":51},{"s":"stup8","t":29.5,"v":51},{"s":"stup8","t":30,"v":51},{"s":"stup8","t":30.75,"v":51.3},{"s":"stup8","t":30.92,"v":52.2},{"s":"stup8","t":31.17,"v":49.3},{"s":"stup8","t":31.58,"v":47.9},{"s":"stup8","t":32,"v":47.6},{"s":"stup8","t":32.5,"v":48.5},{"s":"stup8","t":33,"v":48.75},{"s":"stup8","t":33.5,"v":48.5},{"s":"stup8","t":34,"v":48.75},{"s":"stup8","t":35,"v":49.3},{"s":"stup8","t":35.33,"v":50.5},{"s":"stup8","t":35.6,"v":49.9},{"s":"stup8","t":36,"v":49.9},{"s":"stup8","t":36.5,"v":48.75},{"s":"stup8","t":37,"v":47.6},{"s":"stup8","t":37.5,"v":47},{"s":"stup8","t":38,"v":46.8}
]},
"mark": {"type": "line", "interpolate": "linear", "clip": true, "strokeJoin": "round", "strokeCap": "butt"},
"encoding": {
"x": {"field": "t", "type": "quantitative", "scale": {"domain": [0, 38], "nice": false, "zero": false},
 "axis": {"title": null, "values": [0,1,2,3,4,5,6,7,8,9,10,11,12,13,14,15,16,17,18,19,20,21,22,23,24,25,26,27,28,29,30,31,32,33,34,35,36,37,38],
  "labelExpr": "((datum.value + 8) % 24) + ':00'", "labelAngle": -90, "labelAlign": "right", "labelBaseline": "middle",
  "labelFontSize": 9, "labelFont": "Liberation Sans", "labelColor": "#000000", "labelPadding": 3, "labelOverlap": false, "labelBound": false,
  "tickSize": 5, "tickColor": "#000000", "domainColor": "#000000", "grid": true, "gridColor": "#000000", "gridOpacity": 1, "gridWidth": 1}},
"y": {"field": "v", "type": "quantitative", "scale": {"domain": [0, 60], "nice": false},
 "axis": {"title": null, "values": [0,10,20,30,40,50,60], "labelFontSize": 10, "labelFont": "Liberation Sans", "labelColor": "#000000", "labelPadding": 4,
  "tickSize": 5, "tickColor": "#000000", "domainColor": "#000000", "grid": true, "gridColor": "#000000", "gridOpacity": 1, "gridWidth": 1}},
"color": {"field": "s", "type": "nominal",
 "scale": {"domain": ["OST Prívod TÚV","OST cirkulácia","Päta obj. Prívod TÚV","Päta obj. cirkulácia","stup1","stup2","stup4","stup6","stup8"],
  "range": ["#FFC800","#FFC800","#FF0000","#FF0000","#FFFF00","#FF00FF","#0000FF","#00FFFF","#00FF00"]},
 "legend": {"title": null, "orient": "none", "legendX": -25, "legendY": 387, "direction": "horizontal", "columns": 9,
  "symbolType": "stroke", "symbolSize": 529, "labelFontSize": 10, "labelFont": "Liberation Sans", "labelColor": "#000000", "labelOffset": 2,
  "columnPadding": 35, "fillColor": "#D3D3D3", "strokeColor": "#000000", "padding": 3, "labelLimit": 300}},
"strokeWidth": {"field": "s", "type": "nominal",
 "scale": {"type": "ordinal", "domain": ["OST Prívod TÚV","OST cirkulácia","Päta obj. Prívod TÚV","Päta obj. cirkulácia","stup1","stup2","stup4","stup6","stup8"],
  "range": [4.5,3,4.5,3,1.3,1.3,1.3,1.3,1.3]},
 "legend": {"title": null, "orient": "none", "legendX": -25, "legendY": 387, "direction": "horizontal", "columns": 9,
  "symbolType": "stroke", "symbolSize": 529, "labelFontSize": 10, "labelFont": "Liberation Sans", "labelColor": "#000000", "labelOffset": 2,
  "columnPadding": 35, "fillColor": "#D3D3D3", "strokeColor": "#000000", "padding": 3, "labelLimit": 300}}
}
}
